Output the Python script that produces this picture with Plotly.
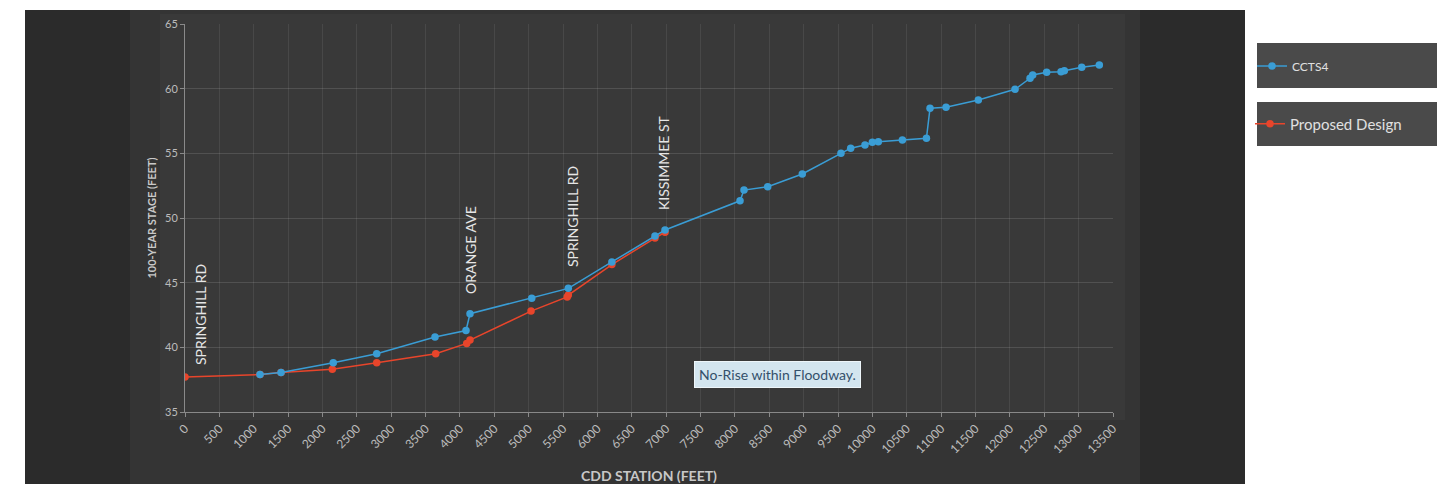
import plotly.graph_objects as go

# ---- data ----
ccts4_x = [1091, 1397, 2157, 2789, 3637, 4088, 4146, 5044, 5576, 6210, 6837, 6983,
           8074, 8132, 8477, 8980, 9543, 9684, 9892, 9999, 10086, 10436, 10786, 10838,
           11071, 11541, 12075, 12293, 12332, 12535, 12744, 12792, 13045, 13301]
ccts4_y = [37.9, 38.06, 38.8, 39.5, 40.8, 41.3, 42.6, 43.8, 44.56, 46.6, 48.6, 49.07,
           51.33, 52.16, 52.42, 53.4, 55.0, 55.4, 55.64, 55.85, 55.9, 56.03, 56.16, 58.48,
           58.56, 59.12, 59.95, 60.8, 61.06, 61.26, 61.31, 61.39, 61.65, 61.83]

proposed_x = [0, 1091, 1397, 2143, 2789, 3647, 4098, 4146, 5034, 5560, 5576, 6210, 6837, 6983]
proposed_y = [37.7, 37.9, 38.06, 38.3, 38.8, 39.5, 40.3, 40.56, 42.8, 43.9, 44.04, 46.4, 48.45, 48.9]

road_labels = ["SPRINGHILL RD", "ORANGE AVE", "SPRINGHILL RD", "KISSIMMEE ST"]
road_x = [218, 4146, 5630, 6954]
road_y = [42.57, 47.52, 50.07, 54.25]

x_ticks = list(range(0, 13501, 500))
y_ticks = [35, 40, 45, 50, 55, 60, 65]

FONT = "Lato, 'Open Sans', sans-serif"
BLUE = "#3a9dd5"
RED = "#e8452b"

# page body has an 8px margin; work in screen pixels and subtract it
O = 8
FW, FH = 1450 - O, 484 - O

fig = go.Figure()

fig.add_trace(go.Scatter(
    x=proposed_x, y=proposed_y, mode="lines+markers", name="Proposed Design",
    line=dict(color=RED, width=1.5), marker=dict(color=RED, size=7.5),
    legend="legend2"))
fig.add_trace(go.Scatter(
    x=ccts4_x, y=ccts4_y, mode="lines+markers", name="CCTS4",
    line=dict(color=BLUE, width=1.5), marker=dict(color=BLUE, size=7.5),
    legend="legend"))

# plot area in screen pixels: x 185..1113, y 24..412
L, R, T, B = 185, 1113, 24, 412
W, H = R - L, B - T

def px(xp):
    return (xp - L) / W

def py(yp):
    return (B - yp) / H

shapes = [
    dict(type="rect", xref="paper", yref="paper", x0=px(25), x1=px(1245), y0=py(490), y1=py(10),
         fillcolor="#2b2b2b", line=dict(width=0), layer="below"),
    dict(type="rect", xref="paper", yref="paper", x0=px(130), x1=px(1140), y0=py(490), y1=py(10),
         fillcolor="#343434", line=dict(width=0), layer="below"),
    dict(type="rect", xref="paper", yref="paper", x0=px(160), x1=px(1125), y0=py(420), y1=py(14),
         fillcolor="#393939", line=dict(width=0), layer="below"),
    dict(type="rect", xref="paper", yref="paper", x0=px(1257), x1=px(1437), y0=py(88), y1=py(43),
         fillcolor="#4a4a4a", line=dict(width=0), layer="below"),
    dict(type="rect", xref="paper", yref="paper", x0=px(1257), x1=px(1437), y0=py(146), y1=py(102),
         fillcolor="#4a4a4a", line=dict(width=0), layer="below"),
]

annotations = []
for lbl, ax, ay in zip(road_labels, road_x, road_y):
    annotations.append(dict(x=ax, y=ay, xref="x", yref="y", text=lbl, showarrow=False,
                            textangle=-90, xanchor="center", yanchor="middle",
                            font=dict(family=FONT, size=14, color="#e6e6e6")))
annotations.append(dict(x=8612, y=37.89, xref="x", yref="y", text="No-Rise within Floodway.",
                        showarrow=False, xanchor="center", yanchor="middle",
                        bgcolor="#d3e5ef", bordercolor="#eef6fa", borderwidth=1, borderpad=4,
                        font=dict(family=FONT, size=14, color="#34506b")))

fig.update_layout(
    width=FW, height=FH,
    margin=dict(l=L - O, r=1450 - R, t=T - O, b=484 - B, pad=0, autoexpand=False),
    paper_bgcolor="white", plot_bgcolor="rgba(0,0,0,0)",
    shapes=shapes, annotations=annotations,
    showlegend=True,
    legend=dict(x=px(1252), y=py(66), xanchor="left", yanchor="middle",
                bgcolor="rgba(0,0,0,0)", font=dict(family=FONT, size=12, color="#e0e0e0"),
                itemwidth=30),
    legend2=dict(x=px(1250), y=py(124), xanchor="left", yanchor="middle",
                 bgcolor="rgba(0,0,0,0)", font=dict(family=FONT, size=15, color="#e0e0e0"),
                 itemwidth=30),
    font=dict(family=FONT),
)

fig.update_xaxes(
    range=[0, 13500], tickvals=x_ticks, ticktext=[str(v) for v in x_ticks], tickangle=-45,
    tickfont=dict(family=FONT, size=12, color="#bcbcbc"),
    showgrid=True, gridcolor="rgba(255,255,255,0.08)", gridwidth=1,
    showline=True, linecolor="#8a8a8a", linewidth=1, ticks="outside", ticklen=4, tickcolor="#8a8a8a",
    zeroline=False, automargin=False,
    title=dict(text="<b>CDD STATION (FEET)</b>", font=dict(family=FONT, size=14, color="#c8c8c8"),
               standoff=18),
)
fig.update_yaxes(
    range=[35, 65], tickvals=y_ticks,
    tickfont=dict(family=FONT, size=11, color="#bcbcbc"),
    showgrid=True, gridcolor="rgba(255,255,255,0.12)", gridwidth=1,
    showline=True, linecolor="#8a8a8a", linewidth=1, ticks="outside", ticklen=4, tickcolor="#8a8a8a",
    zeroline=False, automargin=False,
    title=dict(text="<b>100-YEAR STAGE (FEET)</b>", font=dict(family=FONT, size=11, color="#c8c8c8"),
               standoff=6),
)

fig.write_html("out.html")
